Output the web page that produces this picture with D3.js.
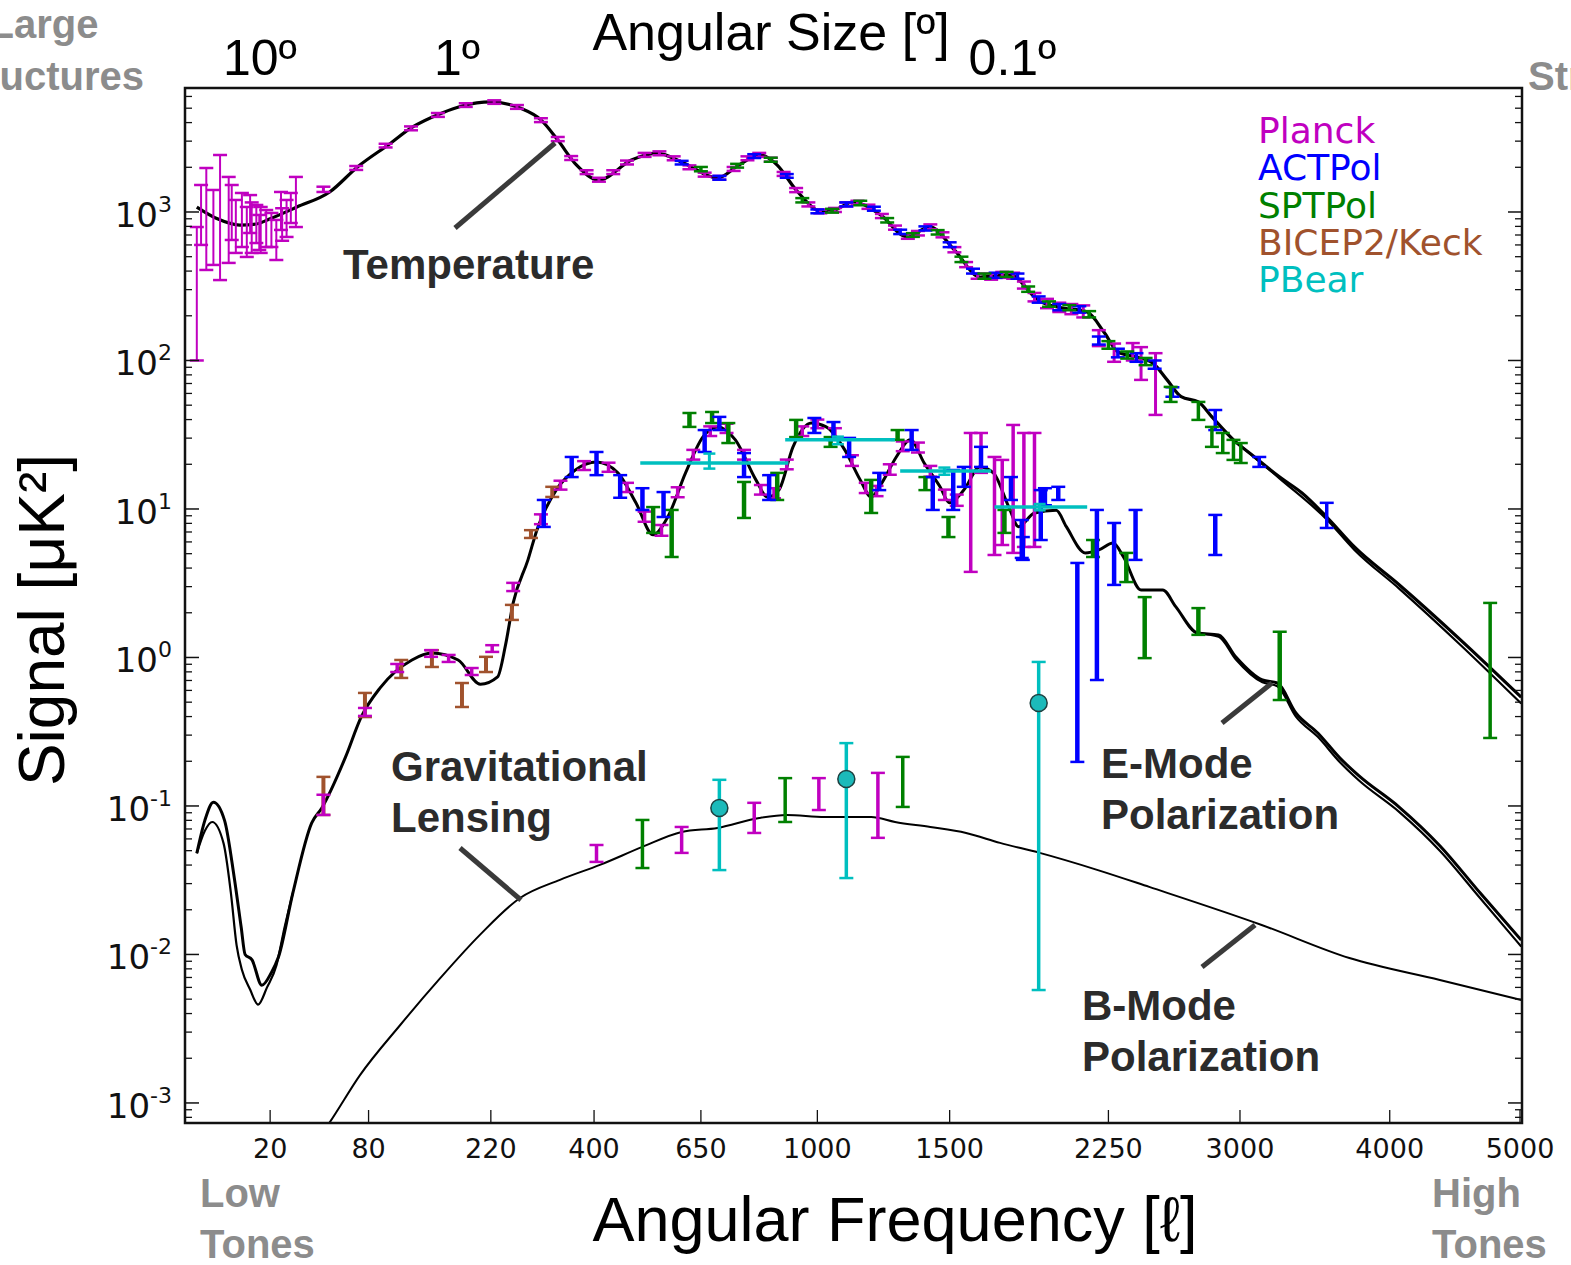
<!DOCTYPE html>
<html>
<head>
<meta charset="utf-8">
<script src="https://cdn.jsdelivr.net/npm/d3@7"></script>
<style>
  body { margin: 0; background: #fff; }
  svg { display: block; }
</style>
</head>
<body>
<svg id="chart" width="1571" height="1265"></svg>
<script>
// ---- données : [l, D_l] en muK^2 ----
const xTicks = [20, 80, 220, 400, 650, 1000, 1500, 2250, 3000, 4000, 5000];
const yExponents = [-3, -2, -1, 0, 1, 2, 3];
const angleTicks = [[10, "10º"], [1, "1º"], [0.1, "0.1º"]];
const surveys = ["Planck", "ACTPol", "SPTPol", "BICEP2/Keck", "PBear"];

const ttCurve = [[2,1080],[5,900],[10,817],[15,830],[20,900],[32,1080],[51,1364],[71,2010],[100,2917],[120,3680],[155,4645],[180,5175],[220,5510],[265,5010],[300,4170],[330,3050],[365,2075],[410,1642],[480,2240],[539,2494],[605,2140],[694,1693],[755,2070],[817,2420],[870,2070],[930,1406],[1020,1000],[1060,1031],[1124,1168],[1225,955],[1326,680],[1418,794],[1520,555],[1631,365],[1765,377],[1905,250],[2000,228],[2140,212],[2230,153],[2300,114],[2395,106],[2490,96],[2570,74],[2650,57],[2750,52.6],[2830,41.7],[2960,29.2],[3090,22.4],[3250,16.4],[3395,12.8],[3560,8.83],[3750,5.55],[4070,3.08],[4530,1.31],[5010,0.54]];
const ttTailAlt = [[2960,29.2],[3250,16.0],[3560,8.5],[3750,5.3],[4070,2.9],[4530,1.21],[5010,0.49]];

const eeCurve = [[2,0.048],[3,0.08],[4.3,0.106],[6.4,0.08],[8.6,0.033],[10.4,0.0153],[11.5,0.01],[13.6,0.0092],[16.9,0.0062],[20.4,0.0075],[23.4,0.0096],[30,0.026],[40,0.077],[46,0.097],[62,0.214],[74,0.398],[90,0.624],[121,0.962],[143,1.07],[175,0.962],[205,0.66],[230,0.74],[242,1.21],[254,2.33],[278,4.54],[293,7.2],[327,13.4],[363,18.3],[405,20.7],[450,17.5],[490,11],[530,6.7],[565,8.8],[610,17.5],[655,30.5],[695,35.7],[745,29.2],[805,15.7],[840,12.05],[875,13.4],[920,26.2],[980,37.9],[1030,35.7],[1095,24.9],[1150,15.7],[1190,12.05],[1230,15],[1285,22.4],[1340,29.2],[1395,20.4],[1460,14.1],[1500,11],[1560,13.4],[1630,19.2],[1690,17.5],[1760,10.3],[1805,7.6],[1880,9.4],[1985,9.8],[2035,7.6],[2130,5.06],[2200,5.3],[2275,5.9],[2330,4.75],[2425,2.85],[2545,2.85],[2620,2.19],[2745,1.46],[2870,1.42],[2975,1.007],[3140,0.705],[3235,0.673],[3355,0.423],[3500,0.31],[3650,0.21],[3780,0.16],[4070,0.098],[4370,0.054],[4680,0.026],[5010,0.0125]];
const eeLowAlt = [[2,0.048],[3,0.068],[4.1,0.078],[6.2,0.056],[7.8,0.026],[9.2,0.0115],[10.6,0.0079],[13,0.0058],[15.6,0.0046],[18.8,0.006],[22.6,0.0085],[26,0.015],[30,0.026]];
const eeTailAlt = [[2745,1.46],[2870,1.38],[2975,0.97],[3140,0.68],[3235,0.64],[3355,0.4],[3500,0.292],[3650,0.197],[3780,0.149],[4070,0.091],[4370,0.05],[4680,0.024],[5010,0.0113]];

const bbCurve = [[45,0.0006],[51,0.00074],[73,0.00154],[109,0.00335],[153,0.00695],[204,0.0135],[265,0.024],[334,0.0318],[412,0.0401],[505,0.053],[600,0.0668],[695,0.0711],[815,0.083],[900,0.0869],[1025,0.0843],[1190,0.0843],[1280,0.078],[1420,0.0722],[1570,0.0658],[1720,0.0564],[1905,0.0483],[2195,0.037],[2470,0.0285],[3135,0.0158],[3715,0.00946],[4370,0.00673],[5010,0.00494]];

// barres d'erreur : [l, bas, haut]
const planckTTLow = [[2,100,792],[2.5,600,1520],[3.2,407,1978],[4.3,440,1407],[5.5,348,2420],[7.3,454,1722],[8,648,1520],[9,530,1205],[10.6,581,1343],[12,498,1081],[13,722,1300],[13.5,530,1160],[15,618,1115],[16,555,955],[16.5,530,1081],[18.5,581,1031],[20.5,581,985],[22.5,475,884],[24.5,757,1364],[25,640,1060],[27,679,1205],[29,843,1343],[31.5,792,1722]];
const planckTT = [[47,1364,1480],[70,1920,2040],[95,2720,2880],[120,3550,3770],[150,4370,4640],[185,5100,5400],[225,5350,5650],[260,4950,5250],[300,4030,4280],[330,3000,3200],[355,2240,2380],[385,1800,1910],[410,1600,1700],[440,1800,1910],[470,2090,2220],[510,2350,2500],[545,2410,2560],[580,2230,2370],[620,1940,2060],[660,1730,1840],[700,1650,1750],[740,1890,2010],[780,2230,2370],[815,2350,2500],[850,2180,2320],[890,1750,1860],[930,1360,1450],[970,1090,1160],[1010,980,1040],[1060,1000,1065],[1100,1090,1160],[1140,1120,1190],[1180,1050,1120],[1230,910,970],[1280,760,810],[1330,660,710],[1370,695,745],[1420,765,825],[1470,675,730],[1520,535,580],[1570,425,460],[1620,355,385],[1680,350,385],[1730,360,395],[1780,355,390],[1830,305,340],[1880,250,285],[1940,225,260],[2000,212,245],[2060,205,240],[2120,195,235],[2200,125,160],[2280,98,130],[2380,100,131],[2425,74,123],[2505,43,112]];
const actTT = [[600,2090,2210],[700,1650,1750],[800,2310,2450],[900,1700,1800],[1000,980,1040],[1100,1090,1160],[1200,1020,1085],[1300,710,760],[1400,750,800],[1500,580,625],[1600,385,415],[1700,360,390],[1800,355,385],[1900,245,270],[2000,218,240],[2100,210,232],[2200,128,145],[2300,105,120],[2400,98,112],[2500,88,100],[2600,57,66],[2850,34,46.4],[3120,19.2,22.4],[3560,7.45,11]];
const sptTT = [[650,1880,2010],[750,1990,2110],[850,2180,2320],[950,1160,1240],[1050,990,1050],[1150,1110,1190],[1250,850,910],[1350,680,720],[1450,705,755],[1550,460,500],[1650,355,385],[1750,365,395],[1850,290,315],[1950,230,250],[2050,218,236],[2150,195,215],[2250,120,135],[2350,103,115],[2450,93,104],[2590,52.6,66.4],[2750,39.8,52.6],[2830,26.2,35.7],[2895,23.8,32.5],[2960,21.4,29.2],[3005,20.4,27.8],[4760,0.287,2.33]];

const planckEE = [[47,0.087,0.119],[77,0.404,0.457],[106,0.798,0.904],[142,1.01,1.12],[163,0.933,1.04],[193,0.762,0.849],[222,1.09,1.21],[254,2.8,3.18],[300,7.9,9.2],[335,13.5,15.5],[380,18.3,21],[430,17.8,20.5],[470,13,15],[510,8.2,9.6],[550,6.6,7.8],[590,12,14],[630,21.5,25],[675,31,36],[720,32.5,37.5],[770,21.5,25],[820,12.5,14.5],[860,11.8,13.8],[900,18.5,21.5],[950,31,36],[1000,35,40],[1060,30,35],[1120,19.5,23],[1170,12.8,15],[1210,12.2,14.3],[1260,17,20],[1310,24.5,28.5],[1370,24,28],[1420,16.5,19.5],[1480,11.5,13.5],[1530,10.5,12.5],[1590,3.77,32.5],[1635,17.5,32.5],[1695,4.9,22.4],[1730,5.72,21.4],[1780,5.06,36.8],[1830,5.55,32.5],[1880,5.55,32.5]];
const actEE = [[305,7.57,11.5],[356,16.4,22.4],[405,16.9,24.2],[455,11.9,16.9],[505,9.85,13.8],[555,8.83,13.0],[660,24.2,34.0],[700,34.0,41.7],[770,16.4,23.8],[845,11.5,16.9],[990,32.5,41.0],[1055,29.2,38.5],[1110,22.4,30.1],[1220,13.4,17.5],[1345,25.0,34.0],[1430,9.85,16.4],[1515,9.85,18.3],[1560,14.1,19.2],[1635,19.2,26.2],[1770,11.5,16.4],[1820,4.68,8.43],[1825,4.54,6.47],[1910,6.18,13.4],[1930,10.6,13.8],[1995,11.5,14.1],[2090,0.198,4.33],[2190,0.705,9.85],[2280,3.08,8.05],[2395,4.54,9.85],[2850,4.9,9.12]];
const sptEE = [[530,6.9,10.3],[575,4.75,9.85],[620,35.7,44.3],[680,37.9,45.0],[725,27.8,37.9],[770,8.7,15.2],[870,11.5,17.5],[930,30.5,39.8],[1045,26.2,30.5],[1190,9.4,15.7],[1290,29.2,34.0],[1400,13.4,16.4],[1495,6.47,8.83],[1740,6.9,9.85],[2170,4.75,6.18],[2345,3.22,5.06],[2445,0.99,2.55],[2750,1.42,2.15],[3250,0.517,1.49]];
const bicepEE = [[47,0.087,0.157],[77,0.397,0.577],[110,0.728,0.962],[143,0.863,1.12],[180,0.464,0.673],[213,0.798,1.01],[252,1.79,2.26],[283,6.38,7.2],[320,12.05,14.1]];
// PBear EE : [l min, l max, D, bas, haut]
const pbearEE = [[500,905,20.4,18.7,23.6],[895,1280,29.2,27.3,30.7],[1300,1680,18.0,17.0,19.0],[1695,2140,10.3,9.8,10.8]];

const planckBB = [[405,0.042,0.0546],[600,0.0483,0.0722],[800,0.0658,0.105],[1005,0.0939,0.154],[1215,0.061,0.167]];
const sptBB = [[505,0.0382,0.0805],[895,0.078,0.154],[1310,0.0985,0.214]];
// PBear BB : [l, D, bas, haut]
const pbearBB = [[700,0.097,0.037,0.15],[1100,0.152,0.0327,0.265],[1900,0.494,0.00576,0.933]];

// ---- couleurs ----
const colors = { Planck: "#c000c0", ACTPol: "#0000ff", SPTPol: "#008000", "BICEP2/Keck": "#a0522d", PBear: "#00bfbf" };

// ---- dessin ----
const svg = d3.select("#chart");
const plot = { left: 185, right: 1522, top: 88, bottom: 1123 };

const x = d3.scalePow().exponent(0.45).domain([1, 5000]).range([186, 1520]);
const y = d3.scaleLog().domain([Math.pow(10, -3.135), Math.pow(10, 3.835)]).range([plot.bottom, plot.top]);

svg.append("defs").append("clipPath").attr("id", "clip")
  .append("rect").attr("x", plot.left).attr("y", plot.top)
  .attr("width", plot.right - plot.left).attr("height", plot.bottom - plot.top);

const plotG = svg.append("g").attr("clip-path", "url(#clip)");

// courbes théoriques
const line = d3.line().x(d => x(d[0])).y(d => y(d[1])).curve(d3.curveMonotoneX);
function drawCurve(data, w) {
  plotG.append("path").datum(data).attr("d", line)
    .attr("fill", "none").attr("stroke", "#000").attr("stroke-width", w)
    .attr("stroke-linejoin", "round");
}
drawCurve(ttCurve, 3.2);
drawCurve(ttTailAlt, 2.2);
drawCurve(eeCurve, 3);
drawCurve(eeLowAlt, 2.2);
drawCurve(eeTailAlt, 2.2);
drawCurve(bbCurve, 2);

// barres d'erreur
function drawBars(data, color, lineW, capW) {
  const g = plotG.append("g").attr("stroke", color);
  g.selectAll("line.v").data(data).join("line").attr("class", "v")
    .attr("x1", d => x(d[0])).attr("x2", d => x(d[0]))
    .attr("y1", d => y(d[1])).attr("y2", d => y(d[2]))
    .attr("stroke-width", lineW);
  g.selectAll("line.lo").data(data).join("line").attr("class", "lo")
    .attr("x1", d => x(d[0]) - capW / 2).attr("x2", d => x(d[0]) + capW / 2)
    .attr("y1", d => y(d[1])).attr("y2", d => y(d[1]))
    .attr("stroke-width", 2.5);
  g.selectAll("line.hi").data(data).join("line").attr("class", "hi")
    .attr("x1", d => x(d[0]) - capW / 2).attr("x2", d => x(d[0]) + capW / 2)
    .attr("y1", d => y(d[2])).attr("y2", d => y(d[2]))
    .attr("stroke-width", 2.5);
}

drawBars(planckTTLow, colors.Planck, 2, 14);
drawBars(planckTT, colors.Planck, 3, 14);
drawBars(actTT, colors.ACTPol, 3.5, 14);
drawBars(sptTT, colors.SPTPol, 3.5, 14);

drawBars(bicepEE, colors["BICEP2/Keck"], 4, 14);
drawBars(planckEE, colors.Planck, 3.5, 14);
drawBars(sptEE, colors.SPTPol, 4.5, 14);
drawBars(actEE, colors.ACTPol, 4.5, 14);

// PBear EE : barres horizontales
const pbG = plotG.append("g").attr("stroke", colors.PBear);
pbG.selectAll("line.h").data(pbearEE).join("line").attr("class", "h")
  .attr("x1", d => x(d[0])).attr("x2", d => x(d[1]))
  .attr("y1", d => y(d[2])).attr("y2", d => y(d[2]))
  .attr("stroke-width", 3.5);
drawBars(pbearEE.map(d => [Math.sqrt(d[0] * d[1]), d[3], d[4]]), colors.PBear, 3, 12);

drawBars(planckBB, colors.Planck, 3.5, 14);
drawBars(sptBB, colors.SPTPol, 3.5, 14);
drawBars(pbearBB.map(d => [d[0], d[2], d[3]]), colors.PBear, 3.5, 14);
plotG.append("g").selectAll("circle").data(pbearBB).join("circle")
  .attr("cx", d => x(d[0])).attr("cy", d => y(d[1])).attr("r", 8.5)
  .attr("fill", "#1cbaba").attr("stroke", "#1d4040").attr("stroke-width", 1.5);

// ---- axes ----
const axG = svg.append("g").attr("stroke", "#111");
// ticks y (gauche et droite)
const yMinor = [];
for (let e = -4; e <= 3; e++) for (let m = 2; m <= 9; m++) {
  const v = m * Math.pow(10, e);
  if (y(v) > plot.top && y(v) < plot.bottom) yMinor.push(v);
}
[plot.left, plot.right].forEach((x0, side) => {
  const dir = side === 0 ? 1 : -1;
  axG.selectAll(null).data(yExponents).join("line")
    .attr("x1", x0).attr("x2", x0 + dir * 14)
    .attr("y1", e => y(Math.pow(10, e))).attr("y2", e => y(Math.pow(10, e)))
    .attr("stroke-width", 1.5);
  axG.selectAll(null).data(yMinor).join("line")
    .attr("x1", x0).attr("x2", x0 + dir * 7)
    .attr("y1", v => y(v)).attr("y2", v => y(v))
    .attr("stroke-width", 1.3);
});
// ticks x
axG.selectAll(null).data(xTicks).join("line")
  .attr("x1", d => x(d)).attr("x2", d => x(d))
  .attr("y1", plot.bottom).attr("y2", plot.bottom - 13)
  .attr("stroke-width", 1.3);

svg.append("rect").attr("x", plot.left).attr("y", plot.top)
  .attr("width", plot.right - plot.left).attr("height", plot.bottom - plot.top)
  .attr("fill", "none").attr("stroke", "#111").attr("stroke-width", 2.5);

// labels des ticks
svg.append("g").selectAll("text").data(xTicks).join("text")
  .attr("x", d => x(d)).attr("y", 1158)
  .attr("text-anchor", "middle").attr("font-family", "DejaVu Sans").attr("font-size", 27)
  .attr("fill", "#111").text(d => d);

yExponents.forEach(e => {
  const t = svg.append("text").attr("x", 172).attr("y", y(Math.pow(10, e)) + 15)
    .attr("text-anchor", "end").attr("font-family", "DejaVu Sans").attr("font-size", 34).attr("fill", "#111");
  t.append("tspan").text("10");
  t.append("tspan").attr("dy", -15).attr("font-size", 22).text(e);
});

// axe du haut : taille angulaire (theta = 180/l)
svg.append("g").selectAll("text").data(angleTicks).join("text")
  .attr("x", d => x(180 / d[0]) - 5).attr("y", 75)
  .attr("text-anchor", "middle").attr("font-family", "Liberation Sans").attr("font-size", 50)
  .text(d => d[1]);

// titres d'axes
svg.append("text").attr("x", 771).attr("y", 50).attr("text-anchor", "middle")
  .attr("font-family", "Liberation Sans").attr("font-size", 52).text("Angular Size [º]");
svg.append("text").attr("x", 895).attr("y", 1241).attr("text-anchor", "middle")
  .attr("font-family", "Liberation Sans").attr("font-size", 63).text("Angular Frequency [ℓ]");
svg.append("text").attr("transform", "translate(64,620) rotate(-90)").attr("text-anchor", "middle")
  .attr("font-family", "Liberation Sans").attr("font-size", 64).text("Signal [μK²]");

// textes gris sur les côtés
const gray = "#8c8c8c";
function grayText(tx, ty, txt, anchor) {
  svg.append("text").attr("x", tx).attr("y", ty).attr("text-anchor", anchor)
    .attr("font-family", "Liberation Sans").attr("font-weight", "bold").attr("font-size", 40)
    .attr("fill", gray).text(txt);
}
grayText(44, 38, "Large", "middle");
grayText(44, 90, "Structures", "middle");
grayText(1628, 90, "Structures", "middle");
grayText(200, 1207, "Low", "start");
grayText(200, 1258, "Tones", "start");
grayText(1432, 1207, "High", "start");
grayText(1432, 1258, "Tones", "start");

// légende
svg.append("g").selectAll("text").data(surveys).join("text")
  .attr("x", 1258).attr("y", (d, i) => 143 + i * 37.3)
  .attr("font-family", "DejaVu Sans").attr("font-size", 36)
  .attr("fill", d => colors[d]).text(d => d);

// annotations
const annot = "#2b2b2b";
function label(tx, ty, lines) {
  lines.forEach((s, i) => svg.append("text").attr("x", tx).attr("y", ty + i * 51)
    .attr("font-family", "Liberation Sans").attr("font-weight", "bold").attr("font-size", 42)
    .attr("fill", annot).text(s));
}
label(343, 279, ["Temperature"]);
label(391, 781, ["Gravitational", "Lensing"]);
label(1101, 778, ["E-Mode", "Polarization"]);
label(1082, 1020, ["B-Mode", "Polarization"]);

// pointeurs vers les courbes
const pointers = [[455, 228, 555, 143], [460, 848, 521, 900], [1222, 723, 1272, 683], [1202, 967, 1255, 925]];
svg.append("g").selectAll("line").data(pointers).join("line")
  .attr("x1", d => d[0]).attr("y1", d => d[1]).attr("x2", d => d[2]).attr("y2", d => d[3])
  .attr("stroke", "#3a3a3a").attr("stroke-width", 5);
</script>
</body>
</html>
